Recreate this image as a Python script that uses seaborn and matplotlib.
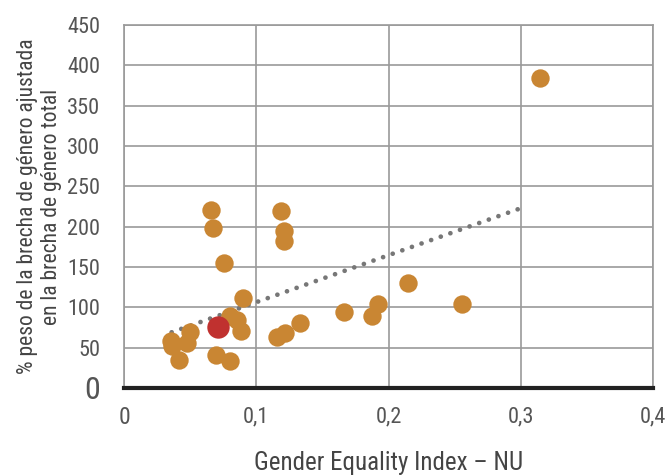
import matplotlib
matplotlib.use("Agg")
import matplotlib.pyplot as plt
import seaborn as sns
import pandas as pd

# data
gei_nu = [0.0656, 0.0676, 0.1185, 0.1208, 0.1208, 0.0757, 0.0903, 0.0802, 0.0857,
          0.0883, 0.0499, 0.0474, 0.0353, 0.0360, 0.0416, 0.0696, 0.0802, 0.1160,
          0.1218, 0.1330, 0.1667, 0.1873, 0.1924, 0.2148, 0.2559, 0.3147]
peso_ajustada = [221, 198, 219, 194, 182, 155, 112, 89, 84,
                 70, 69, 56, 58, 52, 35, 41, 33, 63,
                 68, 81, 94, 89, 104, 130, 104, 384]
highlight_x = [0.0709]
highlight_y = [75]
trend_x = [0.036, 0.302]
trend_y = [69, 224]

xticks = [0, 0.1, 0.2, 0.3, 0.4]
xtick_labels = ["0", "0,1", "0,2", "0,3", "0,4"]
yticks = [0, 50, 100, 150, 200, 250, 300, 350, 400, 450]

sns.set_style("white")
plt.rcParams['font.family'] = ['Roboto Condensed', 'DejaVu Sans']
plt.rcParams['font.stretch'] = 'condensed'

fig = plt.figure(figsize=(6.65, 4.76), dpi=100)
ax = fig.add_axes([0.1865, 0.185, 0.7955, 0.7625])

df = pd.DataFrame({"x": gei_nu, "y": peso_ajustada})
sns.scatterplot(data=df, x="x", y="y", color="#C98633", s=175, linewidth=0, ax=ax, zorder=3)
sns.scatterplot(x=highlight_x, y=highlight_y, color="#C0312F", s=260, linewidth=0, ax=ax, zorder=4)
ax.plot(trend_x, trend_y, color="#777777", linewidth=3.4, linestyle=(0, (0.01, 2.15)),
        dash_capstyle="round", zorder=2)

ax.set_xlim(0, 0.4)
ax.set_ylim(0, 450)
ax.set_xticks(xticks)
ax.set_xticklabels(xtick_labels)
ax.set_yticks(yticks)
ax.set_yticklabels([str(v) for v in yticks])
ax.grid(True, color="#9a9a9a", linewidth=1.2)
ax.set_axisbelow(True)
for side in ["left", "right", "top"]:
    ax.spines[side].set_color("#9a9a9a")
    ax.spines[side].set_linewidth(1.2)
ax.spines["bottom"].set_color("#222222")
ax.spines["bottom"].set_linewidth(3)
ax.spines["bottom"].set_zorder(5)

ax.tick_params(axis="both", length=0, labelsize=16, labelcolor="#555555")
ax.tick_params(axis="y", pad=17)
ax.tick_params(axis="x", pad=13)
ax.get_yticklabels()[0].set_fontsize(23)
ax.get_xticklabels()[0].set_fontsize(17)

ax.set_xlabel("Gender Equality Index – NU", fontsize=18, color="#444444", labelpad=16)
ax.set_ylabel("% peso de la brecha de género ajustada\nen la brecha de género total",
              fontsize=15.5, color="#444444", labelpad=4, linespacing=1.2)

plt.savefig("out.png", dpi=100)
